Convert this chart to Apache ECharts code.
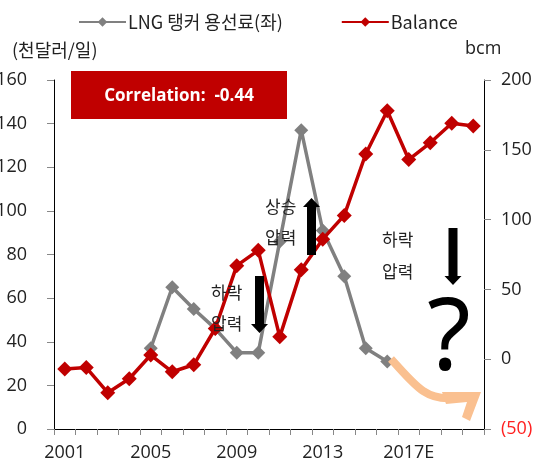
<!DOCTYPE html>
<html>
<head>
<meta charset="utf-8">
<script src="https://cdn.jsdelivr.net/npm/echarts@6/dist/echarts.min.js"></script>
<style>
  html, body { margin: 0; padding: 0; background: #fff; }
  #chart { width: 542px; height: 467px; }
</style>
</head>
<body>
<div id="chart"></div>
<script>
// 데이터
const years = ['2001', '2002', '2003', '2004', '2005', '2006', '2007', '2008', '2009', '2010',
  '2011', '2012', '2013', '2014', '2015', '2016', '2017E', '2018E', '2019E', '2020E']
// LNG 탱커 용선료 (천달러/일), 좌축
const charterRate = [null, null, null, null, 37, 65, 55, 46, 35, 35,
  86, 137, 91, 70, 37, 31, null, null, null, null]
// Balance (bcm), 우축
const balance = [-7, -6, -24, -14, 3, -9, -4, 22, 67, 78,
  16, 64, 86, 103, 147, 178, 143, 155, 169, 167]
const leftTicks = [0, 160, 20]
const rightTicks = [-50, 200, 50]

const FONT = '"Open Sans", "Noto Sans CJK KR", sans-serif'
const KR = '"Noto Sans CJK KR", sans-serif'
const RED = '#C00000'
const GRAY = '#808080'

const chart = echarts.init(document.getElementById('chart'))

// 화살표 모양 (장식)
const arrow = (x, yTail, yTip, up) => {
  const dir = up ? -1 : 1
  const headLen = 9
  const shaftEnd = yTip - dir * headLen
  return {
    type: 'polygon',
    shape: {
      points: [
        [x - 4.5, yTail], [x + 4.5, yTail], [x + 4.5, shaftEnd], [x + 8.5, shaftEnd],
        [x, yTip], [x - 8.5, shaftEnd], [x - 4.5, shaftEnd]
      ]
    },
    style: { fill: '#000' },
    z: 20
  }
}
const label = (x, y, text) => ({
  type: 'text', x: x, y: y,
  style: { text: text, font: '17px ' + KR, fill: '#222', textAlign: 'left', textVerticalAlign: 'middle' },
  z: 20
})

const options = {
  animation: false,
  textStyle: { fontFamily: FONT },
  legend: {
    top: 8,
    left: 73,
    itemWidth: 47,
    itemHeight: 12,
    itemGap: 58,
    textStyle: { fontSize: 18, color: '#222', fontFamily: KR, padding: [0, 0, 0, -3] },
    data: ['LNG 탱커 용선료(좌)', 'Balance']
  },
  grid: { left: 54, right: 58, top: 80, bottom: 38, containLabel: false, outerBoundsMode: 'none' },
  xAxis: {
    type: 'category',
    data: years,
    boundaryGap: true,
    axisLine: { lineStyle: { color: '#000', width: 1 } },
    axisTick: { show: true, interval: 0, length: 6, lineStyle: { color: '#888' } },
    axisLabel: { interval: 3, fontSize: 18, color: '#222', margin: 15 }
  },
  yAxis: [
    {
      type: 'value',
      min: leftTicks[0], max: leftTicks[1], interval: leftTicks[2],
      splitLine: { show: false },
      axisLine: { show: true, lineStyle: { color: '#000' } },
      axisTick: { show: true, length: 7, lineStyle: { color: '#888' } },
      axisLabel: { fontSize: 18, color: '#222', margin: 27 }
    },
    {
      type: 'value',
      position: 'right',
      min: rightTicks[0], max: rightTicks[1], interval: rightTicks[2],
      splitLine: { show: false },
      axisLine: { show: true, lineStyle: { color: '#000' } },
      axisTick: { show: true, length: 7, lineStyle: { color: '#888' } },
      axisLabel: {
        fontSize: 18, color: '#222', margin: 17,
        formatter: v => v < 0 ? '{neg|(' + Math.abs(v) + ')}' : String(v),
        rich: { neg: { color: '#FF2020', fontSize: 18 } }
      }
    }
  ],
  graphic: [
    { type: 'text', left: 12, top: 41, style: { text: '(천달러/일)', font: '18px ' + KR, fill: '#222' } },
    { type: 'text', left: 465, top: 40, style: { text: 'bcm', font: '18px ' + FONT, fill: '#222' } },
    { type: 'rect', shape: { x: 71, y: 71, width: 216, height: 48 }, style: { fill: RED }, z: 10 },
    {
      type: 'text', x: 179, y: 96, z: 11,
      style: { text: 'Correlation:  -0.44', font: 'bold 17px ' + FONT, fill: '#fff', textAlign: 'center', textVerticalAlign: 'middle' }
    },
    label(265, 207, '상승'), label(265, 238, '압력'),
    label(211, 293, '하락'), label(211, 324, '압력'),
    label(382, 240, '하락'), label(382, 272, '압력'),
    arrow(311.5, 255, 198, true),
    arrow(259.5, 276, 333, false),
    arrow(453, 228, 285, false),
    {
      type: 'text', x: 449, y: 342, z: 20,
      style: { text: '?', font: '100px "Noto Sans", sans-serif', fill: '#000', textAlign: 'center', textVerticalAlign: 'middle' }
    },
    {
      type: 'bezierCurve', z: 15,
      shape: { x1: 391, y1: 359, x2: 452, y2: 398, cpx1: 415, cpy1: 385, cpx2: 425, cpy2: 400 },
      style: { stroke: '#FAC090', lineWidth: 8, fill: null, lineCap: 'butt' }
    },
    {
      type: 'polygon', z: 15,
      shape: { points: [[442, 392], [481, 392], [470, 421], [462, 417], [467, 402], [446, 404]] },
      style: { fill: '#FAC090' }
    }
  ],
  series: [
    {
      name: 'LNG 탱커 용선료(좌)',
      type: 'line',
      yAxisIndex: 0,
      data: charterRate,
      symbol: 'diamond',
      symbolSize: 14,
      showAllSymbol: true,
      itemStyle: { color: GRAY },
      lineStyle: { color: GRAY, width: 3.5 },
      z: 3
    },
    {
      name: 'Balance',
      type: 'line',
      yAxisIndex: 1,
      data: balance,
      symbol: 'diamond',
      symbolSize: 15,
      showAllSymbol: true,
      itemStyle: { color: RED },
      lineStyle: { color: RED, width: 3.5 },
      z: 4
    }
  ]
}

chart.setOption(options)
</script>
</body>
</html>
